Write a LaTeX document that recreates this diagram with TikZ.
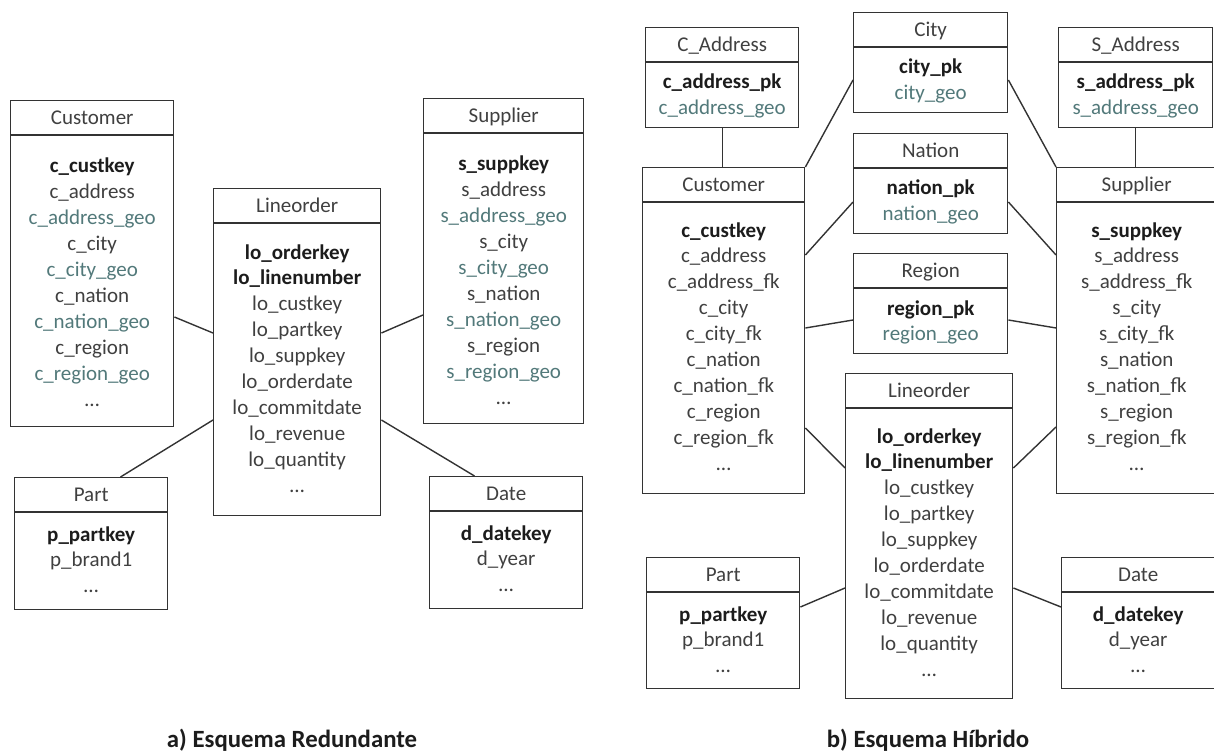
\documentclass[tikz,border=0pt]{standalone}
\usepackage{fontspec}
\setmainfont{Carlito}
\usetikzlibrary{calc}

\definecolor{edgegray}{HTML}{333333}
\definecolor{plaintext}{HTML}{404040}
\definecolor{keytext}{HTML}{1C1C1C}
\definecolor{geotext}{HTML}{52797A}

% key attributes in bold, geometry attributes in teal
\newcommand\kf[1]{\textcolor{keytext}{\bfseries #1}}
\newcommand\gf[1]{\textcolor{geotext}{#1}}

\tikzset{
  tblbox/.style={draw=edgegray, line width=1.4pt, fill=white, inner sep=0pt, anchor=north west},
  rule/.style={draw=edgegray, line width=1.4pt},
  link/.style={draw=edgegray, line width=1.4pt},
  lbl/.style={inner sep=0pt, font=\fontsize{21}{26}\selectfont, text=plaintext, anchor=base},
  caption/.style={inner sep=0pt, font=\fontsize{24.8}{29}\selectfont\bfseries, text=keytext, anchor=base},
}

% #1 name, #2 left, #3 top, #4 width, #5 height, #6 title,
% #7 baseline offset of the first attribute, #8 attribute list
\newcommand\dbtable[8]{%
  \node[tblbox, minimum width=#4pt, minimum height=#5pt] (#1) at (#2,#3) {};
  \draw[rule] ([yshift=-35pt]#1.north west) -- ([yshift=-35pt]#1.north east);
  \node[lbl] (#1-title) at ([yshift=-24.5pt]#1.north) {#6};
  \foreach \f [count=\i from 0] in {#8} {
    \pgfmathsetmacro\yy{#7+25.9*\i}
    \node[lbl] (#1-\i) at ([yshift=-\yy pt]#1.north) {\f};
  }
}

\begin{document}
\begin{tikzpicture}[x=1pt, y=-1pt]
\useasboundingbox (0,0) rectangle (1214,751);

% ---------------- a) redundant schema ----------------
\dbtable{custA}{10}{100}{163}{326}{Customer}{73}
  {\kf{c\_custkey}, c\_address, \gf{c\_address\_geo}, c\_city, \gf{c\_city\_geo},
   c\_nation, \gf{c\_nation\_geo}, c\_region, \gf{c\_region\_geo}, \ldots}
\dbtable{lineA}{213}{188}{167}{327}{Lineorder}{71}
  {\kf{lo\_orderkey}, \kf{lo\_linenumber}, lo\_custkey, lo\_partkey, lo\_suppkey,
   lo\_orderdate, lo\_commitdate, lo\_revenue, lo\_quantity, \ldots}
\dbtable{suppA}{423}{98}{160}{325}{Supplier}{73}
  {\kf{s\_suppkey}, s\_address, \gf{s\_address\_geo}, s\_city, \gf{s\_city\_geo},
   s\_nation, \gf{s\_nation\_geo}, s\_region, \gf{s\_region\_geo}, \ldots}
\dbtable{partA}{14}{477}{153}{132}{Part}{64}
  {\kf{p\_partkey}, p\_brand1, \ldots}
\dbtable{dateA}{429}{476}{153}{132}{Date}{64}
  {\kf{d\_datekey}, d\_year, \ldots}

\draw[link] (custA.east |- 0,317) -- (lineA.west |- 0,333);
\draw[link] (lineA.east |- 0,333) -- (suppA.west |- 0,315);
\draw[link] (lineA.west |- 0,420) -- (partA.north -| 120.5,0);
\draw[link] (lineA.east |- 0,420) -- (dateA.north -| 474.5,0);

\node[caption] (capA) at (292,747) {a) Esquema Redundante};

% ---------------- b) hybrid schema ----------------
\dbtable{caddr}{645}{27}{153}{100}{C\_Address}{62}
  {\kf{c\_address\_pk}, \gf{c\_address\_geo}}
\dbtable{city}{853}{12}{154}{100}{City}{62}
  {\kf{city\_pk}, \gf{city\_geo}}
\dbtable{saddr}{1058}{27}{154}{100}{S\_Address}{62}
  {\kf{s\_address\_pk}, \gf{s\_address\_geo}}
\dbtable{nation}{853}{133}{154}{100}{Nation}{62}
  {\kf{nation\_pk}, \gf{nation\_geo}}
\dbtable{region}{853}{253}{154}{100}{Region}{62}
  {\kf{region\_pk}, \gf{region\_geo}}
\dbtable{custB}{642}{167}{162}{326}{Customer}{70}
  {\kf{c\_custkey}, c\_address, c\_address\_fk, c\_city, c\_city\_fk,
   c\_nation, c\_nation\_fk, c\_region, c\_region\_fk, \ldots}
\dbtable{suppB}{1056}{167}{160}{326}{Supplier}{70}
  {\kf{s\_suppkey}, s\_address, s\_address\_fk, s\_city, s\_city\_fk,
   s\_nation, s\_nation\_fk, s\_region, s\_region\_fk, \ldots}
\dbtable{lineB}{845}{373}{167}{325}{Lineorder}{70}
  {\kf{lo\_orderkey}, \kf{lo\_linenumber}, lo\_custkey, lo\_partkey, lo\_suppkey,
   lo\_orderdate, lo\_commitdate, lo\_revenue, lo\_quantity, \ldots}
\dbtable{partB}{646}{557}{153}{131}{Part}{64}
  {\kf{p\_partkey}, p\_brand1, \ldots}
\dbtable{dateB}{1061}{557}{153}{131}{Date}{64}
  {\kf{d\_datekey}, d\_year, \ldots}

\draw[link] (caddr.south) -- (custB.north -| caddr.south);
\draw[link] (saddr.south) -- (suppB.north -| saddr.south);
\draw[link] (city.west |- 0,80) -- (custB.north east);
\draw[link] (city.east |- 0,80) -- (suppB.north west);
\draw[link] (nation.west |- 0,202) -- (custB.east |- 0,255);
\draw[link] (nation.east |- 0,202) -- (suppB.west |- 0,255);
\draw[link] (region.west |- 0,320) -- (custB.east |- 0,328);
\draw[link] (region.east |- 0,320) -- (suppB.west |- 0,328);
\draw[link] (custB.east |- 0,428) -- (lineB.west |- 0,468);
\draw[link] (lineB.east |- 0,468) -- (suppB.west |- 0,427);
\draw[link] (partB.east |- 0,607) -- (lineB.west |- 0,588);
\draw[link] (lineB.east |- 0,588) -- (dateB.west |- 0,607);

\node[caption] (capB) at (928,747) {b) Esquema Híbrido};
\end{tikzpicture}
\end{document}
